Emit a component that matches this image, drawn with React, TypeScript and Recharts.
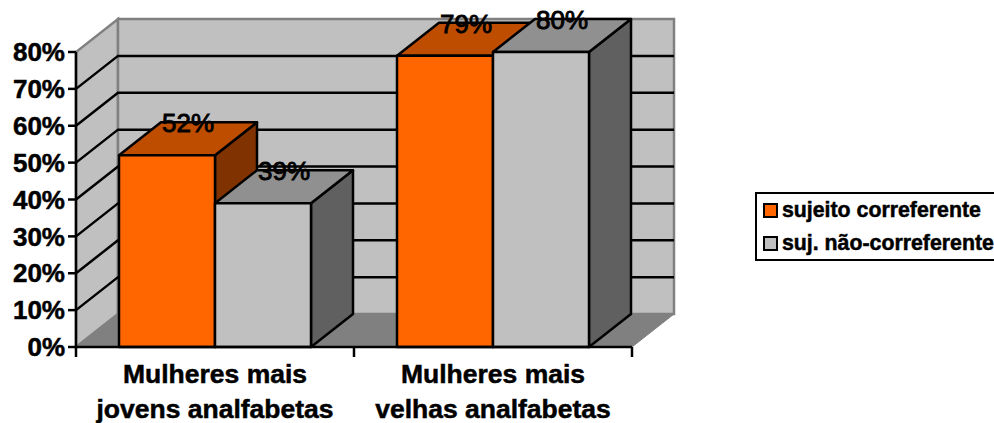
import {
  BarChart,
  Bar,
  XAxis,
  YAxis,
  CartesianGrid,
  Legend,
  LabelList,
  usePlotArea,
} from 'recharts'

const categories = ['Mulheres mais\njovens analfabetas', 'Mulheres mais\nvelhas analfabetas']
const corref = [52, 79]
const naoCorref = [39, 80]
const yTicks = [0, 10, 20, 30, 40, 50, 60, 70, 80]

const data = categories.map((name, i) => ({ name, corref: corref[i], naoCorref: naoCorref[i] }))

const FONT = '"Liberation Sans", Arial, sans-serif'
const DX = 42
const DY = 33
const WALL = '#C0C0C0'
const WALL_EDGE = '#808080'
const FLOOR = '#808080'
const LINE = 2.5

// back wall, side wall and floor of the 3D box
function Walls() {
  const plot = usePlotArea()
  if (!plot) return null
  const { x, y, width, height } = plot
  const r = x + width
  const b = y + height
  return (
    <g>
      <polygon points={`${x},${b} ${x},${y} ${x + DX},${y - DY} ${x + DX},${b - DY}`} fill={WALL} stroke={WALL_EDGE} strokeWidth={2.5} />
      <rect x={x + DX} y={y - DY} width={width} height={height} fill={WALL} stroke={WALL_EDGE} strokeWidth={2.5} />
      <polygon points={`${x},${b} ${r},${b} ${r + DX},${b - DY} ${x + DX},${b - DY}`} fill={FLOOR} stroke={WALL_EDGE} strokeWidth={1} />
    </g>
  )
}

// grid line runs up the side wall and then along the back wall
function gridLine(props: any) {
  const { x1, x2, y1, key } = props
  const { y, height } = props
  if (y1 <= y + 1 || y1 >= y + height - 1) return <g key={key} />
  return (
    <polyline
      key={key}
      points={`${x1},${y1} ${x1 + DX},${y1 - DY} ${x2 + DX},${y1 - DY}`}
      fill="none"
      stroke="#000"
      strokeWidth={LINE}
    />
  )
}

function box3d(front: string, top: string, side: string) {
  return (props: any) => {
    const { x, y, width, height } = props
    const r = x + width
    const b = y + height
    return (
      <g stroke="#000" strokeWidth={LINE} strokeLinejoin="round">
        <polygon points={`${r},${y} ${r + DX},${y - DY} ${r + DX},${b - DY} ${r},${b}`} fill={side} />
        <polygon points={`${x},${y} ${x + DX},${y - DY} ${r + DX},${y - DY} ${r},${y}`} fill={top} />
        <rect x={x} y={y} width={width} height={height} fill={front} />
      </g>
    )
  }
}

function barLabel(props: any) {
  const { x, y, width, value } = props
  return (
    <text
      x={x + width / 2 + DX / 2}
      y={y - 32}
      textAnchor="middle"
      dominantBaseline="central"
      fontFamily={FONT}
      fontSize={26}
      fill="#000"
      stroke="#000"
      strokeWidth={0.9}
    >
      {value}%
    </text>
  )
}

function CategoryTick(props: any) {
  const { x, y, payload } = props
  const band = 278
  const lines = String(payload.value).split('\n')
  return (
    <g>
      <line x1={x - band / 2} x2={x - band / 2} y1={y - 8} y2={y + 2} stroke="#000" strokeWidth={LINE} />
      {payload.index === categories.length - 1 && (
        <line x1={x + band / 2} x2={x + band / 2} y1={y - 8} y2={y + 2} stroke="#000" strokeWidth={LINE} />
      )}
      {lines.map((line, i) => (
        <text
          key={line}
          x={x}
          y={383 + i * 35}
          textAnchor="middle"
          fontFamily={FONT}
          fontWeight="bold"
          fontSize={26.5}
          fill="#000"
          stroke="#000"
          strokeWidth={0.5}
        >
          {line}
        </text>
      ))}
    </g>
  )
}

function LegendBox({ payload }: any) {
  return (
    <div
      style={{
        boxSizing: 'border-box',
        width: 245,
        height: 69,
        border: '2.5px solid #000',
        background: '#fff',
        fontFamily: FONT,
        fontWeight: 'bold',
        fontSize: 21.3,
        paddingLeft: 6,
        paddingTop: 0,
        whiteSpace: 'nowrap',
        color: '#000',
        WebkitTextStroke: '0.5px #000',
      }}
    >
      {(payload || []).map((p: any) => (
        <div key={p.value} style={{ display: 'flex', alignItems: 'center', height: 33 }}>
          <span
            style={{
              boxSizing: 'border-box',
              width: 15,
              height: 15,
              border: '2px solid #000',
              background: p.color,
              marginRight: 4,
            }}
          />
          {p.value}
        </div>
      ))}
    </div>
  )
}

export default function App() {
  return (
    <div style={{ position: 'absolute', left: 0, top: 0, width: 994, height: 423, overflow: 'hidden', background: '#fff' }}>
      <BarChart
        width={994}
        height={423}
        data={data}
        margin={{ top: 52, right: 362, bottom: 0, left: 0 }}
        barCategoryGap={43}
        barGap={0}
      >
        <Walls />
        <CartesianGrid horizontal={gridLine} vertical={false} zIndex={1} />
        <XAxis
          dataKey="name"
          height={76}
          axisLine={{ stroke: '#000', strokeWidth: LINE }}
          tickLine={false}
          tick={CategoryTick}
          interval={0}
        />
        <YAxis
          width={76}
          domain={[0, 80]}
          ticks={yTicks}
          tickFormatter={(v: number) => `${v}%`}
          axisLine={{ stroke: '#000', strokeWidth: LINE }}
          tickLine={{ stroke: '#000', strokeWidth: LINE }}
          tickSize={8}
          tickMargin={3}
          tick={{ fontFamily: FONT, fontWeight: 'bold', fontSize: 26, fill: '#000', stroke: '#000', strokeWidth: 0.5 }}
        />
        <Legend
          layout="vertical"
          align="center"
          verticalAlign="middle"
          content={LegendBox}
          itemSorter={null}
          wrapperStyle={{ left: 755, top: 192, width: 245, height: 69 }}
        />
        <Bar
          dataKey="corref"
          name="sujeito correferente"
          fill="#FF6600"
          shape={box3d('#FF6600', '#BF4D00', '#803300')}
          isAnimationActive={false}
        >
          <LabelList dataKey="corref" content={barLabel} />
        </Bar>
        <Bar
          dataKey="naoCorref"
          name="suj. não-correferente"
          fill="#C0C0C0"
          shape={box3d('#C0C0C0', '#909090', '#606060')}
          isAnimationActive={false}
        >
          <LabelList dataKey="naoCorref" content={barLabel} />
        </Bar>
      </BarChart>
    </div>
  )
}
